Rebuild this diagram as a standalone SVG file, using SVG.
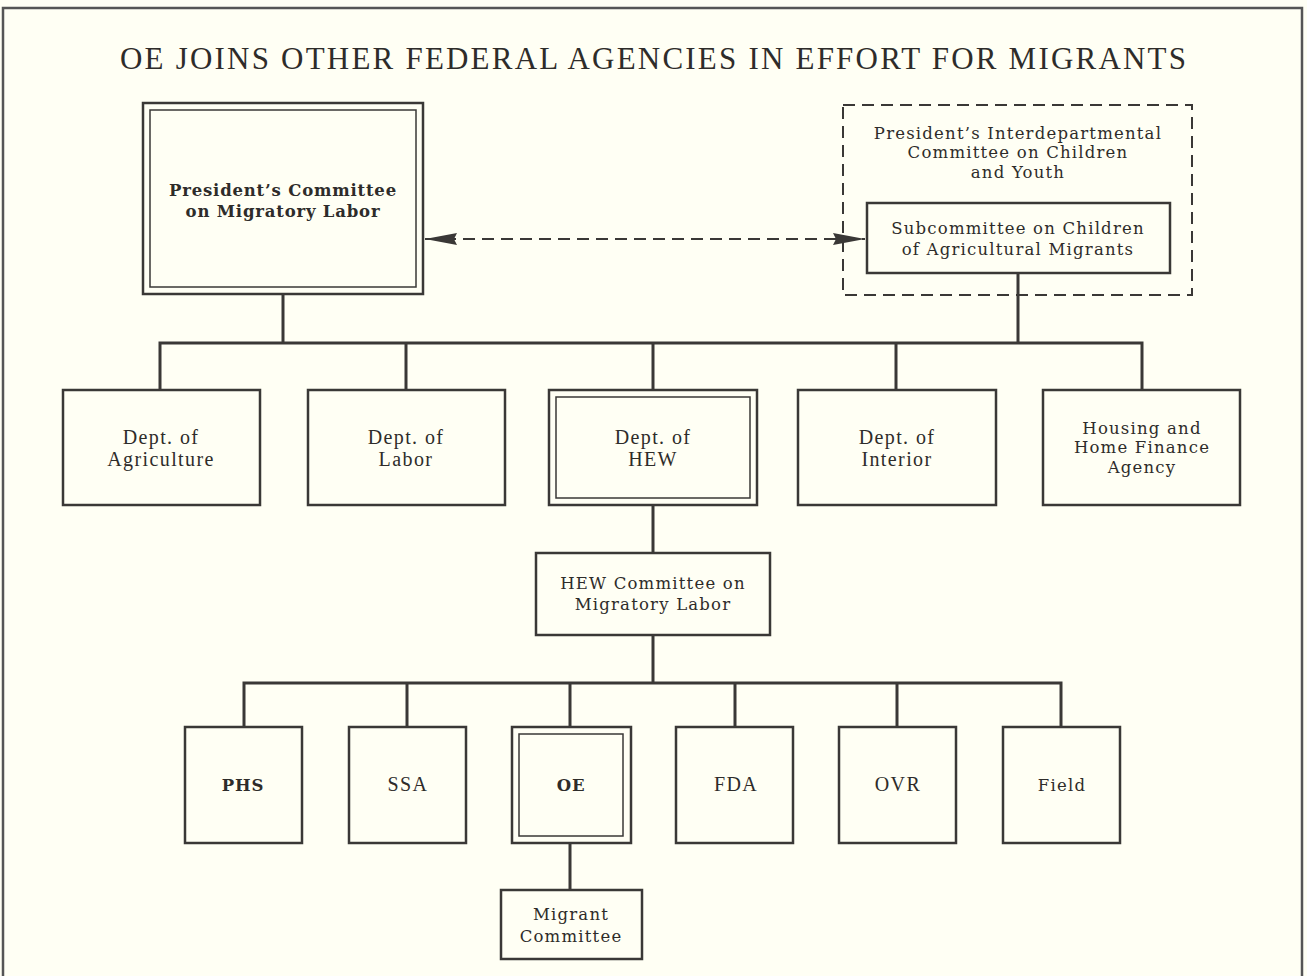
<svg xmlns="http://www.w3.org/2000/svg" width="1307" height="976" viewBox="0 0 1307 976">
<defs>
<style>
.bx{fill:none;stroke:#3a3836;stroke-width:2.5}
.in{fill:none;stroke:#3a3836;stroke-width:1.5}
.dash{fill:none;stroke:#3a3836;stroke-width:2;stroke-dasharray:12,7}
.ln{fill:none;stroke:#3a3836;stroke-width:3}
.t{font-family:"Liberation Serif","DejaVu Serif",serif;font-size:20px;fill:#2e2c2a;text-anchor:middle;letter-spacing:1.4px}
.tb{font-family:"DejaVu Serif","Liberation Serif",serif;font-size:16.5px;fill:#2e2c2a;text-anchor:middle;letter-spacing:0.8px;font-weight:bold}
.tc{font-family:"DejaVu Serif","Liberation Serif",serif;font-size:16.5px;fill:#2e2c2a;text-anchor:middle;letter-spacing:1.2px}
.title{font-family:"Liberation Serif",serif;font-size:31px;fill:#2e2c2a;text-anchor:middle}
</style>
<marker id="ah" viewBox="0 0 32 14" refX="32" refY="7" markerWidth="32" markerHeight="14" markerUnits="userSpaceOnUse" orient="auto-start-reverse">
<path d="M0,1 L32,7 L0,13 L3,7 Z" fill="#3a3836"/>
</marker>
</defs>
<rect x="0" y="0" width="1307" height="976" fill="#fffff4"/>
<path d="M3,976 V8 H1302 V976" fill="none" stroke="#555" stroke-width="2.5"/>
<text class="title" x="653" y="69" textLength="1066" lengthAdjust="spacing">OE JOINS OTHER FEDERAL AGENCIES IN EFFORT FOR MIGRANTS</text>

<g id="connectors">
<path class="ln" d="M283,294 V343 M160,390 V343 H1142 V390 M406,343 V390 M653,343 V390 M896,343 V390 M1018,273 V343"/>
<path class="ln" d="M653,505 V553 M653,635 V683 M244,727 V683 H1061 V727 M407,683 V727 M570,683 V727 M735,683 V727 M897,683 V727 M570,843 V890"/>
<line class="dash" x1="425" y1="239" x2="865" y2="239" marker-start="url(#ah)" marker-end="url(#ah)"/>
</g>

<g id="presidents-committee">
<rect class="bx" x="143" y="103" width="280" height="191"/>
<rect class="in" x="150" y="110" width="266" height="177"/>
<text class="tb" x="283" y="196">President’s Committee</text>
<text class="tb" x="283" y="217">on Migratory Labor</text>
</g>

<g id="interdepartmental-committee">
<rect class="dash" x="843" y="105" width="349" height="190"/>
<text class="tc" x="1018" y="139">President’s Interdepartmental</text>
<text class="tc" x="1018" y="158">Committee on Children</text>
<text class="tc" x="1018" y="178">and Youth</text>
</g>

<g id="subcommittee">
<rect class="bx" x="867" y="203" width="303" height="70" fill="#fffff4"/>
<text class="tc" x="1018" y="234">Subcommittee on Children</text>
<text class="tc" x="1018" y="255">of Agricultural Migrants</text>
</g>

<g id="dept-agriculture">
<rect class="bx" x="63" y="390" width="197" height="115"/>
<text class="t" x="161" y="444">Dept. of</text>
<text class="t" x="161" y="466">Agriculture</text>
</g>
<g id="dept-labor">
<rect class="bx" x="308" y="390" width="197" height="115"/>
<text class="t" x="406" y="444">Dept. of</text>
<text class="t" x="406" y="466">Labor</text>
</g>
<g id="dept-hew">
<rect class="bx" x="549" y="390" width="208" height="115"/>
<rect class="in" x="556" y="397" width="194" height="101"/>
<text class="t" x="653" y="444">Dept. of</text>
<text class="t" x="653" y="466">HEW</text>
</g>
<g id="dept-interior">
<rect class="bx" x="798" y="390" width="198" height="115"/>
<text class="t" x="897" y="444">Dept. of</text>
<text class="t" x="897" y="466">Interior</text>
</g>
<g id="hhfa">
<rect class="bx" x="1043" y="390" width="197" height="115"/>
<text class="tc" x="1142" y="434">Housing and</text>
<text class="tc" x="1142" y="453">Home Finance</text>
<text class="tc" x="1142" y="473">Agency</text>
</g>

<g id="hew-committee">
<rect class="bx" x="536" y="553" width="234" height="82"/>
<text class="tc" x="653" y="589">HEW Committee on</text>
<text class="tc" x="653" y="610">Migratory Labor</text>
</g>

<g id="phs">
<rect class="bx" x="185" y="727" width="117" height="116"/>
<text class="tb" x="243" y="791">PHS</text>
</g>
<g id="ssa">
<rect class="bx" x="349" y="727" width="117" height="116"/>
<text class="t" x="408" y="791">SSA</text>
</g>
<g id="oe">
<rect class="bx" x="512" y="727" width="119" height="116"/>
<rect class="in" x="519" y="734" width="104" height="102"/>
<text class="tb" x="571" y="791">OE</text>
</g>
<g id="fda">
<rect class="bx" x="676" y="727" width="117" height="116"/>
<text class="t" x="736" y="791">FDA</text>
</g>
<g id="ovr">
<rect class="bx" x="839" y="727" width="117" height="116"/>
<text class="t" x="898" y="791">OVR</text>
</g>
<g id="field">
<rect class="bx" x="1003" y="727" width="117" height="116"/>
<text class="tc" x="1062" y="791">Field</text>
</g>

<g id="migrant-committee">
<rect class="bx" x="501" y="890" width="141" height="69"/>
<text class="tc" x="571" y="920">Migrant</text>
<text class="tc" x="571" y="942">Committee</text>
</g>
</svg>
